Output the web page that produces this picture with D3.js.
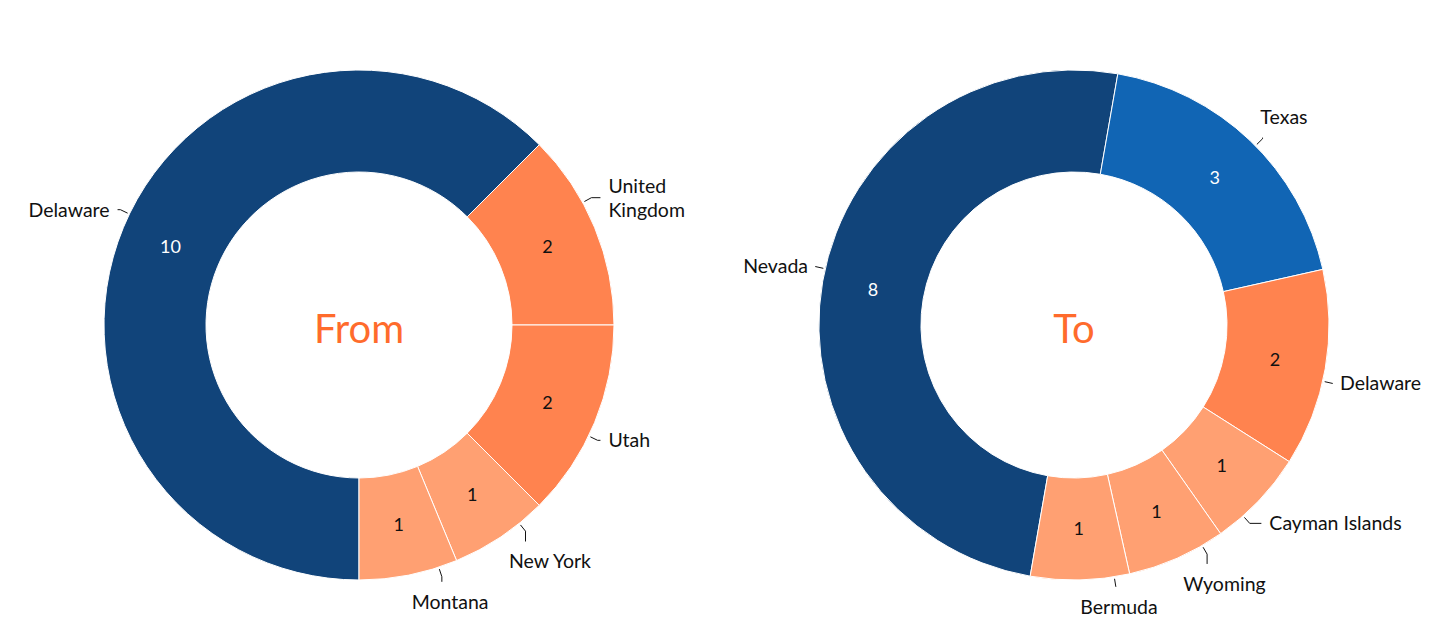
<!DOCTYPE html>
<html><head><meta charset="utf-8">
<script src="https://cdn.jsdelivr.net/npm/d3@7"></script>
<style>
body{margin:0;background:#fff}
svg{display:block}
text{font-family:Lato, "Open Sans", sans-serif}
</style>
</head><body>
<svg id="chart" width="1430" height="639"></svg>
<script>
// ---- data ----
const fromCategories = ["Delaware", "United Kingdom", "Utah", "New York", "Montana"];
const fromValues = [10, 2, 2, 1, 1];
const toCategories = ["Nevada", "Texas", "Delaware", "Cayman Islands", "Wyoming", "Bermuda"];
const toValues = [8, 3, 2, 1, 1, 1];
const chartTitles = ["From", "To"];

// ---- style ----
const fromColors = ["#11447a", "#ff834f", "#ff834f", "#ffa072", "#ffa072"];
const toColors = ["#11447a", "#1165b4", "#ff834f", "#ffa072", "#ffa072", "#ffa072"];
const darkFills = new Set(["#11447a", "#1165b4"]);
const titleColor = "#ff6b2c";

const W = 1430, H = 639;
const panelW = W / 2;
const outerR = 255, innerR = 153;
const cy = 325;
const labelFont = 19.5, lineH = 24;
const svg = d3.select("#chart");

function drawDonut(panelIndex, cats, vals, colors, title, rotationDeg, cx) {
  const g = svg.append("g").attr("transform", `translate(${cx},${cy})`);
  const rot = rotationDeg * Math.PI / 180;
  const pie = d3.pie().sort(null).value(d => d.v)
    .startAngle(Math.PI + rot).endAngle(3 * Math.PI + rot);
  const arc = d3.arc().innerRadius(innerR).outerRadius(outerR);
  const data = cats.map((c, i) => ({c, v: vals[i], col: colors[i]}));
  const arcs = pie(data);

  g.selectAll("path.slice").data(arcs).join("path")
    .attr("class", "slice")
    .attr("d", arc)
    .attr("fill", d => d.data.col)
    .attr("stroke", "#fff").attr("stroke-width", 1);

  g.selectAll("text.val").data(arcs).join("text")
    .attr("class", "val")
    .attr("x", d => arc.centroid(d)[0])
    .attr("y", d => arc.centroid(d)[1])
    .attr("dy", "0.35em")
    .attr("text-anchor", "middle")
    .attr("font-size", 18)
    .attr("fill", d => darkFills.has(d.data.col) ? "#fff" : "#111")
    .text(d => d.data.v);

  const panelLeft = panelIndex * panelW, panelRight = panelLeft + panelW;
  const measure = g.append("text").attr("font-size", labelFont).attr("visibility", "hidden");
  const widthOf = s => { measure.text(s); return measure.node().getComputedTextLength(); };

  arcs.forEach(d => {
    const a = ((d.startAngle + d.endAngle) / 2) % (2 * Math.PI);
    const sx = Math.sin(a), sy = -Math.cos(a);
    const P = [(outerR + 15) * sx, (outerR + 15) * sy];
    const right = sx >= 0, bottom = sy > 0;
    const vertical = Math.abs(Math.cos(a)) > Math.cos(Math.PI / 4);
    let lines = [d.data.c];
    let w = widthOf(d.data.c);
    const absL = cx + (right ? P[0] : P[0] - w), absR = absL + w;
    if ((absR > panelRight - 2 || absL < panelLeft + 2) && d.data.c.includes(" ")) {
      lines = d.data.c.split(" ");
      w = d3.max(lines, widthOf);
    }
    const boxH = lines.length * lineH;
    const x0 = right ? P[0] : P[0] - w;
    const y0 = bottom ? P[1] : P[1] - boxH;
    const C = [x0 + w / 2, y0 + boxH / 2];
    const rb = outerR + 10, rs = outerR + 2;
    let S, B, E;
    if (!vertical) {
      const by = Math.max(-rb + 1, Math.min(rb - 1, C[1]));
      const bx = (right ? 1 : -1) * Math.sqrt(rb * rb - by * by);
      B = [bx, by];
      S = [bx * rs / rb, by * rs / rb];
      E = [right ? x0 - 8 : x0 + w + 8, by];
    } else {
      const len = Math.hypot(C[0], C[1]);
      const u = [C[0] / len, C[1] / len];
      B = [u[0] * rb, u[1] * rb];
      S = [u[0] * rs, u[1] * rs];
      let ey = bottom ? y0 - 8 : y0 + boxH + 8;
      if (bottom ? ey < B[1] : ey > B[1]) ey = B[1];
      E = [B[0], ey];
    }
    g.append("path")
      .attr("d", d3.line().curve(d3.curveLinear)([S, B, E]))
      .attr("fill", "none").attr("stroke", "#111").attr("stroke-width", 1);
    const t = g.append("text")
      .attr("font-size", labelFont)
      .attr("fill", "#111");
    lines.forEach((ln, i) => {
      t.append("tspan").attr("x", x0).attr("y", y0 + lineH * (i + 0.5)).attr("dy", "0.35em").text(ln);
    });
  });
  measure.remove();

  g.append("text")
    .attr("x", 0).attr("y", 18)
    .attr("text-anchor", "middle")
    .attr("font-size", 40)
    .attr("fill", titleColor)
    .text(title);
}

drawDonut(0, fromCategories, fromValues, fromColors, chartTitles[0], 0, 359);
drawDonut(1, toCategories, toValues, toColors, chartTitles[1], 9.9, 1074);
</script>
</body></html>
